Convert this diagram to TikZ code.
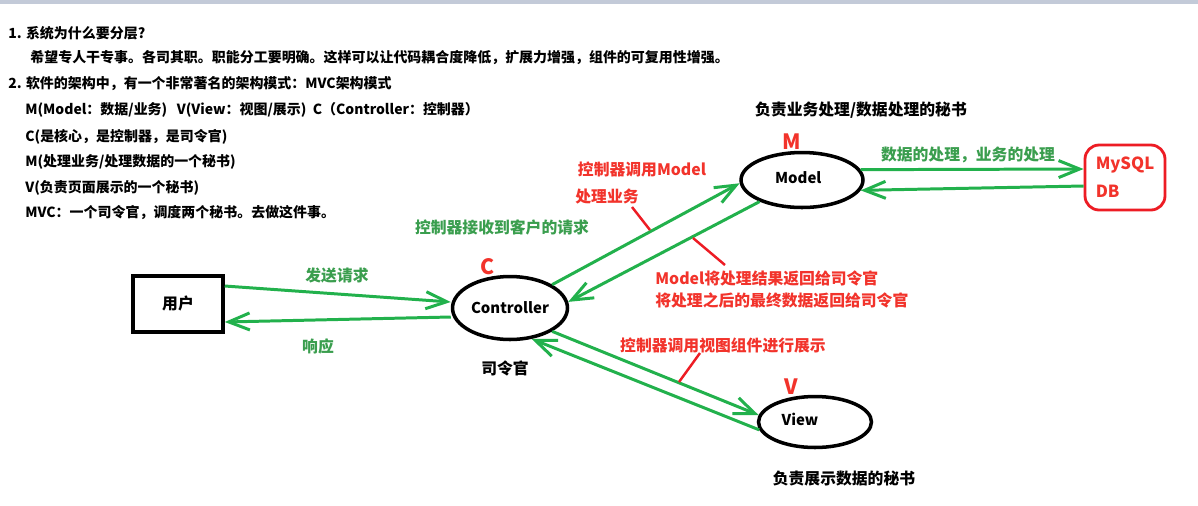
\documentclass[tikz,border=0pt]{standalone}
\usepackage{fontspec}
\setmainfont{Noto Sans CJK SC}
\usepackage{tikz}
\usetikzlibrary{shapes.geometric, arrows.meta, positioning}
\definecolor{paintgreen}{HTML}{22B14C}
\definecolor{labelgreen}{HTML}{3A9E4E}
\definecolor{paintred}{HTML}{ED1C24}
\definecolor{labelred}{HTML}{F2332B}
\definecolor{topband}{HTML}{C3CAD8}

\begin{document}
\begin{tikzpicture}[x=0.02cm, y=-0.02cm,
		note/.style={anchor=west, inner sep=0pt, font=\fontsize{7.95}{10}\selectfont\bfseries},
		caption/.style={inner sep=0pt, font=\fontsize{9}{11}\selectfont\bfseries},
		greenlbl/.style={caption, text=labelgreen},
		redlbl/.style={caption, text=labelred},
		letter/.style={inner sep=0pt, text=labelred, font=\fontsize{12}{13}\selectfont\bfseries},
		mvcnode/.style={ellipse, draw=black, line width=2pt, inner sep=0pt,
			font=\fontsize{8.5}{10}\selectfont\bfseries},
		flow/.style={draw=paintgreen, line width=1.7pt,
			-{Straight Barb[length=4.2mm, width=3.4mm]}},
		pointer/.style={draw=paintred, line width=1.4pt}]
	\useasboundingbox (0,0) rectangle (1198,505);
	\fill[white] (0,0) rectangle (1198,505);
	\fill[topband] (0,0) rectangle (1198,3.5);

	% notes on the left
	\node[note] (q1) at (8,33) {1. 系统为什么要分层?};
	\node[note] (a1) at (30,58) {希望专人干专事。各司其职。职能分工要明确。这样可以让代码耦合度降低，扩展力增强，组件的可复用性增强。};
	\node[note] (q2) at (8,84) {2. 软件的架构中，有一个非常著名的架构模式：MVC架构模式};
	\node[note] (a2) at (25,110) {M(Model：数据/业务)\ \ \ V(View：视图/展示)\ \ C（Controller：控制器）};
	\node[note] (a3) at (25,137) {C(是核心，是控制器，是司令官)};
	\node[note] (a4) at (25,162) {M(处理业务/处理数据的一个秘书)};
	\node[note] (a5) at (25,188) {V(负责页面展示的一个秘书)};
	\node[note] (a6) at (25,213) {MVC：一个司令官，调度两个秘书。去做这件事。};

	% user, controller, model, view, db
	\node[draw=black, line width=2pt, minimum width=1.8cm, minimum height=1.12cm,
		font=\fontsize{9}{11}\selectfont\bfseries] (user) at (178,304) {用户};
	\node[mvcnode, minimum width=2.3cm, minimum height=1.26cm] (ctrl) at (510,308) {Controller};
	\node[mvcnode, minimum width=2.44cm, minimum height=1.1cm] (model) at (802,180) {\raisebox{0.08cm}{Model}\kern0.15cm};
	\node[mvcnode, minimum width=2.26cm, minimum height=1.02cm] (view) at (815,422) {\raisebox{0.1cm}{View}\kern0.6cm};
	\node[draw=paintred, line width=1.6pt, rounded corners=8pt, minimum width=1.6cm,
		minimum height=1.3cm, align=left, text=labelred,
		font=\fontsize{9.5}{16}\selectfont\bfseries] (db) at (1125,177.5) {MySQL\\DB};

	\node[letter] (cmark) at (488,267) {C};
	\node[letter] (mmark) at (792,142) {M};
	\node[letter] (vmark) at (791,387) {V};

	\node[caption] (ctrlcap) at (505,368) {司令官};
	\node[caption] (modelcap) at (861,110) {负责业务处理/数据处理的秘书};
	\node[caption] (viewcap) at (844,479) {负责展示数据的秘书};

	% arrows
	\draw[flow] ([yshift=0.36cm]user.east) -- ([yshift=0.12cm]ctrl.west);
	\draw[flow] ([yshift=-0.18cm]ctrl.west) -- ([yshift=-0.36cm]user.east);
	\draw[flow] (ctrl.29) -- (model.183);
	\draw[flow] (model.207) -- (ctrl.6);
	\draw[flow] (model.10) -- ([yshift=0.17cm]db.west);
	\draw[flow] ([yshift=-0.17cm]db.west) -- (model.350);
	\draw[flow] (ctrl.331) -- (view.173);
	\draw[flow] (view.188) -- (ctrl.305);

	\node[greenlbl] (sendlbl) at (337,275) {发送请求};
	\node[greenlbl] (resplbl) at (318,346) {响应};
	\node[greenlbl] (recvlbl) at (502,227) {控制器接收到客户的请求};
	\node[greenlbl] (dblbl) at (968,155) {数据的处理，业务的处理};

	\node[redlbl] (callmodel) at (642,169) {控制器调用Model};
	\node[redlbl] (bizlbl) at (607,197) {处理业务};
	\node[redlbl, anchor=west] (backlbl) at (655,278) {Model将处理结果返回给司令官};
	\node[redlbl, anchor=west] (finallbl) at (655,300) {将处理之后的最终数据返回给司令官};
	\node[redlbl] (viewlbl) at (723,346) {控制器调用视图组件进行展示};

	% red pointers
	\coordinate (p1a) at (632,207);
	\coordinate (p1b) at (650,230);
	\coordinate (p2a) at (693,238);
	\coordinate (p2b) at (725,265);
	\coordinate (p3a) at (700,353);
	\coordinate (p3b) at (679,382);
	\draw[pointer] (p1a) -- (p1b);
	\draw[pointer] (p2a) -- (p2b);
	\draw[pointer] (p3a) -- (p3b);
\end{tikzpicture}
\end{document}
